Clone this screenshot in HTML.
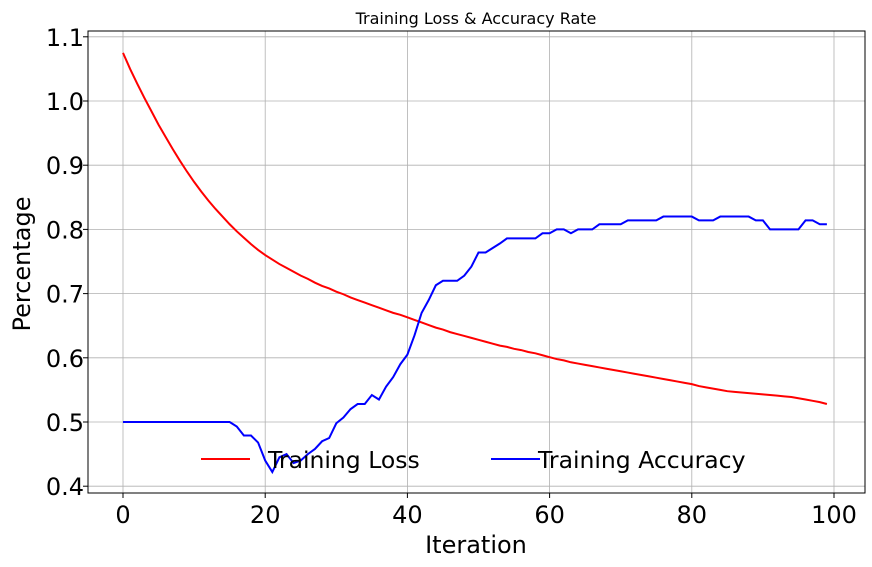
<!DOCTYPE html>
<html><head><meta charset="utf-8"><style>
body{margin:0;background:#fff;}
svg{display:block;font-family:"DejaVu Sans","Liberation Sans",sans-serif;}
</style></head><body>
<svg id="c" width="872" height="567"></svg>
<script>
const iterations=[...Array(100).keys()];
const lossValues=[1.075,1.05,1.027,1.005,0.984,0.963,0.944,0.925,0.907,0.890,0.874,0.859,0.845,0.832,0.820,0.808,0.797,0.787,0.777,0.768,0.760,0.753,0.746,0.740,0.734,0.728,0.723,0.717,0.712,0.708,0.703,0.699,0.694,0.690,0.686,0.682,0.678,0.674,0.670,0.667,0.663,0.659,0.655,0.651,0.647,0.644,0.640,0.637,0.634,0.631,0.628,0.625,0.622,0.619,0.617,0.614,0.612,0.609,0.607,0.604,0.601,0.598,0.596,0.593,0.591,0.589,0.587,0.585,0.583,0.581,0.579,0.577,0.575,0.573,0.571,0.569,0.567,0.565,0.563,0.561,0.559,0.556,0.554,0.552,0.550,0.548,0.547,0.546,0.545,0.544,0.543,0.542,0.541,0.540,0.539,0.537,0.535,0.533,0.531,0.528];
const accValues=[0.5,0.5,0.5,0.5,0.5,0.5,0.5,0.5,0.5,0.5,0.5,0.5,0.5,0.5,0.5,0.5,0.493,0.479,0.479,0.468,0.44,0.422,0.445,0.45,0.436,0.44,0.45,0.458,0.47,0.475,0.498,0.507,0.52,0.528,0.528,0.542,0.535,0.555,0.57,0.59,0.605,0.635,0.67,0.69,0.713,0.72,0.72,0.72,0.728,0.742,0.764,0.764,0.771,0.778,0.786,0.786,0.786,0.786,0.786,0.794,0.794,0.80,0.80,0.794,0.80,0.80,0.80,0.808,0.808,0.808,0.808,0.814,0.814,0.814,0.814,0.814,0.82,0.82,0.82,0.82,0.82,0.814,0.814,0.814,0.82,0.82,0.82,0.82,0.82,0.814,0.814,0.80,0.80,0.80,0.80,0.80,0.814,0.814,0.808,0.808];
const xTicks=[0,20,40,60,80,100];
const yTicks=[0.4,0.5,0.6,0.7,0.8,0.9,1.0,1.1];
const NS="http://www.w3.org/2000/svg",svg=document.getElementById('c');
const L=88,R=865,T=31,B=493;
const xs=v=>123+v*7.11, ys=v=>422-(v-0.5)*642;
function mk(t,a,p){const e=document.createElementNS(NS,t);for(const k in a)e.setAttribute(k,a[k]);(p||svg).appendChild(e);return e;}
const grid=mk('g',{});


xTicks.forEach(t=>{const x=xs(t);mk('line',{x1:x,x2:x,y1:T,y2:B,stroke:'#b0b0b0','stroke-width':0.8},grid);
mk('line',{x1:x,x2:x,y1:B,y2:B+5,stroke:'#000'});
const tx=mk('text',{x:x,y:523,'text-anchor':'middle','font-size':24});tx.textContent=t;

});
yTicks.forEach(t=>{const y=ys(t);mk('line',{x1:L,x2:R,y1:y,y2:y,stroke:'#b0b0b0','stroke-width':0.8},grid);
mk('line',{x1:L-5,x2:L,y1:y,y2:y,stroke:'#000'});
const tx=mk('text',{x:L-4,y:y+9,'text-anchor':'end','font-size':24});tx.textContent=t.toFixed(1);

});
function line(vals,color,name){const p=mk('polyline',{points:vals.map((v,i)=>xs(iterations[i])+','+ys(v)).join(' '),fill:'none',stroke:color,'stroke-width':2});

}
line(lossValues,'#ff0000','training-loss-line');
line(accValues,'#0000ff','training-accuracy-line');
const fr=mk('rect',{x:L,y:T,width:R-L,height:B-T,fill:'none',stroke:'#000','stroke-width':1});


const ti=mk('text',{x:476,y:24,'text-anchor':'middle','font-size':16});ti.textContent='Training Loss & Accuracy Rate';


const xl=mk('text',{x:476,y:553,'text-anchor':'middle','font-size':24});xl.textContent='Iteration';


const yl=mk('text',{x:30,y:264,'text-anchor':'middle','font-size':24,transform:'rotate(-90 30 264)'});yl.textContent='Percentage';


const lg=mk('g',{});


mk('line',{x1:201,x2:250,y1:459,y2:459,stroke:'#ff0000','stroke-width':2},lg);
const l1=mk('text',{x:268,y:468,'font-size':23.5},lg);l1.textContent='Training Loss';


mk('line',{x1:491,x2:540,y1:459,y2:459,stroke:'#0000ff','stroke-width':2},lg);
const l2=mk('text',{x:538,y:468,'font-size':23.5},lg);l2.textContent='Training Accuracy';


</script>
</body></html>
